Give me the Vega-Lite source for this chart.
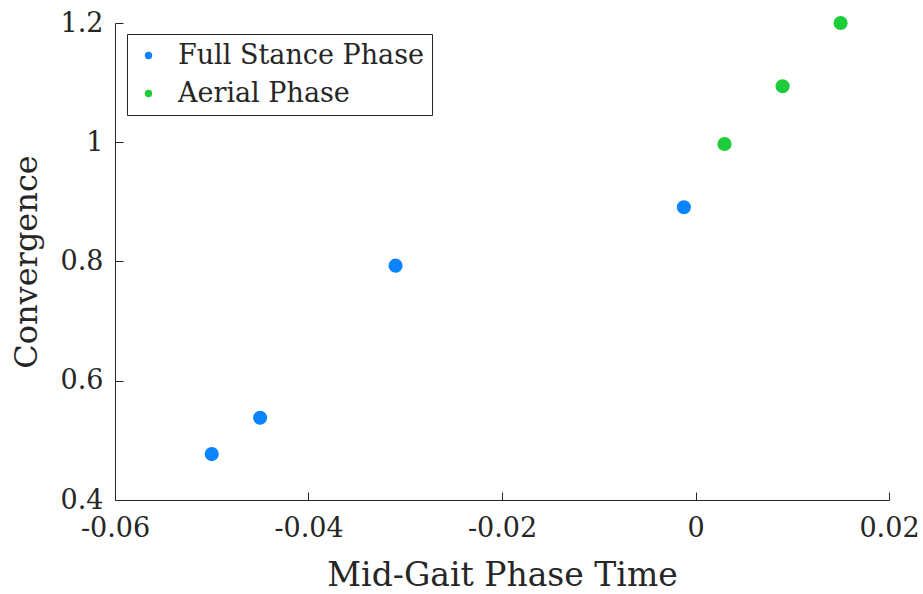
{
  "$schema": "https://vega.github.io/schema/vega-lite/v6.json",
  "width": 774,
  "height": 477,
  "autosize": {"type": "none"},
  "padding": {"left": 115, "top": 23, "right": 34, "bottom": 94},
  "background": "white",
  "data": {
    "values": [
      {"t": -0.05, "c": 0.477, "phase": "Full Stance Phase"},
      {"t": -0.045, "c": 0.538, "phase": "Full Stance Phase"},
      {"t": -0.031, "c": 0.793, "phase": "Full Stance Phase"},
      {"t": -0.0012, "c": 0.891, "phase": "Full Stance Phase"},
      {"t": 0.003, "c": 0.997, "phase": "Aerial Phase"},
      {"t": 0.009, "c": 1.094, "phase": "Aerial Phase"},
      {"t": 0.015, "c": 1.2, "phase": "Aerial Phase"}
    ]
  },
  "mark": {"type": "point", "filled": true, "opacity": 1, "size": 200, "shape": "circle"},
  "encoding": {
    "x": {
      "field": "t", "type": "quantitative",
      "scale": {"domain": [-0.06, 0.02], "nice": false, "zero": false},
      "axis": {
        "title": "Mid-Gait Phase Time",
        "values": [-0.06, -0.04, -0.02, 0, 0.02],
        "labelExpr": "replace(format(datum.value, '~g'), '\u2212', '-')",
        "grid": false, "domainColor": "#262626", "tickColor": "#262626",
        "tickSize": -8, "labelPadding": 23,
        "labelFont": "DejaVu Serif", "labelFontSize": 27, "labelColor": "#262626",
        "titleFont": "DejaVu Serif", "titleFontSize": 33, "titleFontWeight": "normal", "titleColor": "#262626",
        "titlePadding": 18, "labelFlush": false
      }
    },
    "y": {
      "field": "c", "type": "quantitative",
      "scale": {"domain": [0.4, 1.2], "nice": false, "zero": false},
      "axis": {
        "title": "Convergence",
        "values": [0.4, 0.6, 0.8, 1, 1.2],
        "labelExpr": "replace(format(datum.value, '~g'), '\u2212', '-')",
        "grid": false, "domainColor": "#262626", "tickColor": "#262626",
        "tickSize": -8, "labelPadding": 20,
        "labelFont": "DejaVu Serif", "labelFontSize": 27, "labelColor": "#262626",
        "titleFont": "DejaVu Serif", "titleFontSize": 32, "titleFontWeight": "normal", "titleColor": "#262626",
        "titlePadding": 17, "labelFlush": false
      }
    },
    "color": {
      "field": "phase", "type": "nominal",
      "scale": {"domain": ["Full Stance Phase", "Aerial Phase"], "range": ["#0a84ff", "#1ccc38"]},
      "legend": {
        "title": null, "orient": "none", "legendX": 12, "legendY": 11,
        "strokeColor": "#262626", "fillColor": "white", "padding": 8,
        "symbolType": "circle", "symbolSize": 55, "symbolStrokeWidth": 0,
        "labelFont": "DejaVu Serif", "labelFontSize": 27, "labelColor": "#262626",
        "rowPadding": 10, "labelOffset": 16, "labelLimit": 400
      }
    }
  },
  "config": {"view": {"stroke": null}}
}
